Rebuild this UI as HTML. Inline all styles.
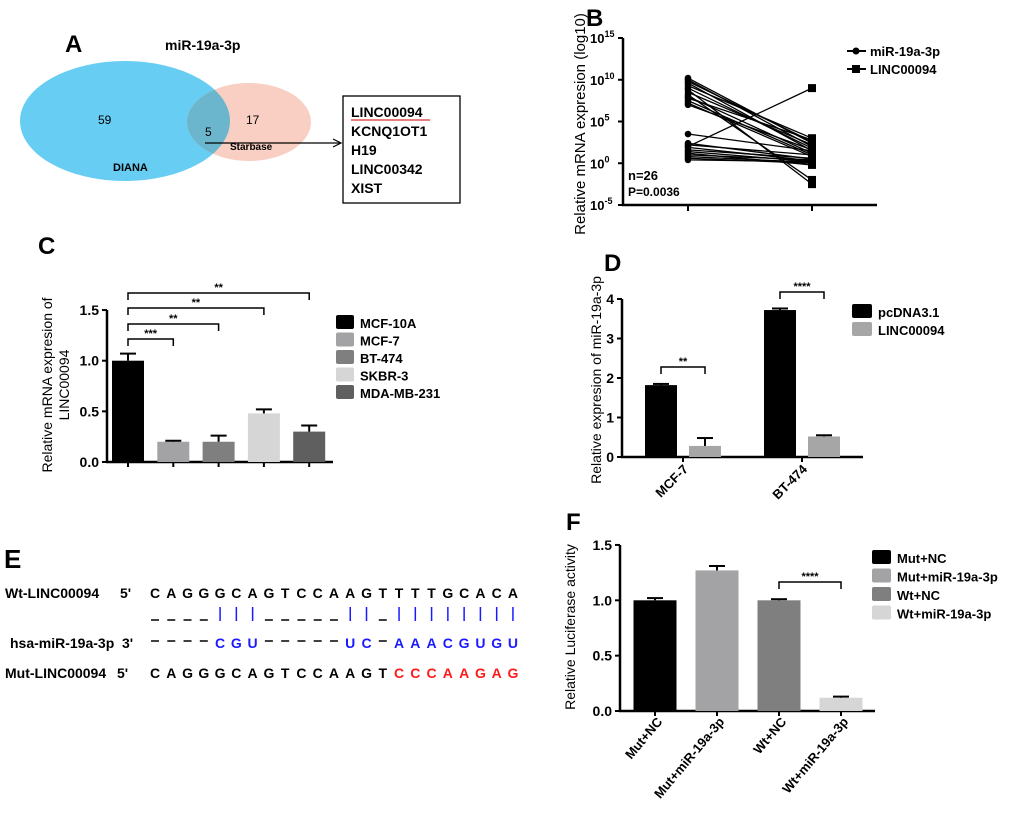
<!DOCTYPE html>
<html><head><meta charset="utf-8"><style>
html,body{margin:0;padding:0;background:#fff;}
svg{display:block;font-family:"Liberation Sans",Arial,sans-serif;}
.b{font-weight:bold}
</style></head><body>
<svg id="fig" width="1020" height="815" viewBox="0 0 1020 815" xmlns="http://www.w3.org/2000/svg">
<!-- Panel A -->
<g>
<text x="65" y="52" font-size="24" class="b">A</text>
<text x="165" y="50" font-size="14" class="b">miR-19a-3p</text>
<ellipse cx="125" cy="121" rx="105" ry="60" fill="#67cdf3"/>
<ellipse cx="249" cy="122" rx="62" ry="39" fill="#f8cfc2"/>
<clipPath id="cl"><ellipse cx="125" cy="121" rx="105" ry="60"/></clipPath>
<ellipse cx="249" cy="122" rx="62" ry="39" fill="#6bb6cc" clip-path="url(#cl)"/>
<text x="98" y="124" font-size="12">59</text>
<text x="205" y="136" font-size="12">5</text>
<text x="246" y="124" font-size="12">17</text>
<text x="113" y="171" font-size="11" class="b">DIANA</text>
<text x="230" y="150" font-size="10" class="b">Starbase</text>
<line x1="205" y1="143" x2="340" y2="143" stroke="#000" stroke-width="1.2"/>
<path d="M333,139 L341,143 L333,147" fill="none" stroke="#000" stroke-width="1.2"/>
<rect x="343" y="96" width="117" height="107" fill="none" stroke="#000" stroke-width="1.3"/>
<g font-size="14" class="b">
<text x="351" y="117">LINC00094</text>
<line x1="351" y1="120" x2="430" y2="120" stroke="#c00" stroke-width="1"/>
<text x="351" y="136">KCNQ1OT1</text>
<text x="351" y="155">H19</text>
<text x="351" y="174">LINC00342</text>
<text x="351" y="193">XIST</text>
</g>
</g>
<!-- Panel B -->
<g id="pb">
<text x="586" y="26" font-size="24" class="b">B</text>
<text transform="translate(585,124) rotate(-90)" text-anchor="middle" font-size="15">Relative mRNA expresion (log10)</text>
<line x1="623" y1="38" x2="623" y2="206" stroke="#000" stroke-width="2.5"/>
<line x1="622" y1="205" x2="877" y2="205" stroke="#000" stroke-width="2.5"/>
<text x="628" y="180" font-size="13" class="b">n=26</text>
<text x="628" y="196" font-size="12" class="b">P=0.0036</text>
<g font-size="13" class="b">
<line x1="847" y1="51" x2="866" y2="51" stroke="#000" stroke-width="2"/><circle cx="856" cy="51" r="3.5"/>
<text x="870" y="56">miR-19a-3p</text>
<line x1="847" y1="69" x2="866" y2="69" stroke="#000" stroke-width="2"/><rect x="852" y="65" width="8" height="8"/>
<text x="870" y="74">LINC00094</text>
</g>
</g>
<!-- Panel C -->
<g id="pc">
<text x="38" y="254" font-size="24" class="b">C</text>
<text transform="translate(52,385) rotate(-90)" text-anchor="middle" font-size="14">Relative mRNA expresion of</text>
<text transform="translate(69,385) rotate(-90)" text-anchor="middle" font-size="14">LINC00094</text>
</g>
<!-- Panel D -->
<g id="pd">
<text x="604" y="271" font-size="24" class="b">D</text>
<text transform="translate(601,380) rotate(-90)" text-anchor="middle" font-size="14">Relative expresion of miR-19a-3p</text>
</g>
<!-- Panel E -->
<g id="pe">
<text x="4" y="568" font-size="26" class="b">E</text>
<text x="5" y="598" font-size="14" class="b">Wt-LINC00094</text><text x="120" y="598" font-size="14" class="b">5'</text>
<text x="10" y="648" font-size="14" class="b">hsa-miR-19a-3p</text><text x="122" y="648" font-size="14" class="b">3'</text>
<text x="5" y="678" font-size="14" class="b">Mut-LINC00094</text><text x="117" y="678" font-size="14" class="b">5'</text>
</g>
<!-- Panel F -->
<g id="pf">
<text x="566" y="530" font-size="24" class="b">F</text>
<text transform="translate(575,627) rotate(-90)" text-anchor="middle" font-size="14">Relative Luciferase activity</text>
</g>
</svg>
<script>
const NS='http://www.w3.org/2000/svg';
function mk(p,t,a,txt){const e=document.createElementNS(NS,t);for(const k in a)e.setAttribute(k,a[k]);if(txt!==undefined)e.textContent=txt;p.appendChild(e);return e;}

// ---- Panel B data (log10 values) ----
const bTicks=[15,10,5,0,-5];
const bTickLabels=['15','10','5','0','-5'];
const bMir=[10.2,10,9.8,9.6,9.3,9,8.8,8.5,8.2,8,7.8,7.5,7.2,7,3.5,2,2.4,2.2,1.9,1.6,1.4,1.2,1,0.8,0.6,0.4];
const bLinc=[2.4,2,2.6,1.5,3,1.8,-2.5,2.2,-2,1.2,2.8,1,0.8,1.6,1.5,9,0.5,1,0.3,0.6,0.2,-0.2,0.4,0.1,0,0.2];
(function(){
 const g=document.getElementById('pb');
 const y=v=>205-(v+5)*(167/20);
 const x1=688,x2=812;
 bTicks.forEach((t,i)=>{
  mk(g,'line',{x1:618,y1:y(t),x2:623,y2:y(t),stroke:'#000','stroke-width':2});
  const tx=mk(g,'text',{x:590,y:y(t)+5,'font-size':13,'font-weight':'bold'},'10');
  
  
  mk(tx,'tspan',{dy:-6,'font-size':9},bTickLabels[i]);
 });
 [x1,x2].forEach(xx=>mk(g,'line',{x1:xx,y1:205,x2:xx,y2:211,stroke:'#000','stroke-width':2}));
 bMir.forEach((v,i)=>{
  const l=mk(g,'line',{x1:x1,y1:y(v),x2:x2,y2:y(bLinc[i]),stroke:'#000','stroke-width':1.3});
  
  
  const c=mk(g,'circle',{cx:x1,cy:y(v),r:3.3});
  
  
  const r=mk(g,'rect',{x:x2-4,y:y(bLinc[i])-4,width:8,height:8});
  
  
 });
})();

function barChart(gid,o){
 const g=document.getElementById(gid);
 const y=v=>o.y0-v*o.scale;
 mk(g,'line',{x1:o.ax,y1:y(o.ymax),x2:o.ax,y2:o.y0+1,stroke:'#000','stroke-width':2.5});
 mk(g,'line',{x1:o.ax-1,y1:o.y0,x2:o.xend,y2:o.y0,stroke:'#000','stroke-width':2.5});
 o.ticks.forEach((t,i)=>{
  mk(g,'line',{x1:o.ax-5,y1:y(t),x2:o.ax,y2:y(t),stroke:'#000','stroke-width':2});
  const tx=mk(g,'text',{x:o.ax-8,y:y(t)+5,'font-size':14,'font-weight':'bold','text-anchor':'end'},o.tickLabels[i]);
  
  
 });
 o.bars.forEach(b=>{
  const r=mk(g,'rect',{x:b.cx-o.w/2,y:y(b.v),width:o.w,height:b.v*o.scale,fill:b.col});
  
  
  const ey=y(b.v+b.e);
  mk(g,'line',{x1:b.cx,y1:y(b.v),x2:b.cx,y2:ey,stroke:'#000','stroke-width':2});
  mk(g,'line',{x1:b.cx-8,y1:ey,x2:b.cx+8,y2:ey,stroke:'#000','stroke-width':2});
 });
 o.ticksX.forEach(xx=>mk(g,'line',{x1:xx,y1:o.y0,x2:xx,y2:o.y0+5,stroke:'#000','stroke-width':2}));
 o.brackets.forEach(b=>{
  const p=mk(g,'path',{d:`M${b.a},${b.y+7}V${b.y}H${b.b}V${b.y+7}`,fill:'none',stroke:'#000','stroke-width':1.5});
  
  
  mk(g,'text',{x:(b.a+b.b)/2,y:b.y-2,'font-size':11,'font-weight':'bold','text-anchor':'middle'},b.s);
 });
 o.legend.forEach((l,i)=>{
  const ly=o.ly+i*o.ldy;
  const r=mk(g,'rect',{x:o.lx,y:ly-7,width:o.lw,height:14,rx:2,fill:l.col});
  
  
  const t=mk(g,'text',{x:o.lx+o.lw+6,y:ly+6,'font-size':o.lfs,'font-weight':'bold'},l.t);
  
  
 });
 return {g,y};
}

// ---- Panel C data ----
const cCats=['MCF-10A','MCF-7','BT-474','SKBR-3','MDA-MB-231'];
const cVals=[1.0,0.2,0.2,0.48,0.3];
const cErrs=[0.07,0.01,0.06,0.04,0.06];
const cTicks=[0,0.5,1,1.5];
const cTickLabels=['0.0','0.5','1.0','1.5'];
(function(){
 const cols=['#000','#a3a3a5','#7f7f7f','#d6d6d6','#5f5f5f'];
 const xs=cCats.map((c,i)=>128+i*45.3);
 barChart('pc',{y0:462,scale:101.3,ax:107,xend:333,ymax:1.5,w:32,ticks:cTicks,tickLabels:cTickLabels,
  bars:cVals.map((v,i)=>({cx:xs[i],v:v,e:cErrs[i],col:cols[i]})),ticksX:xs,
  brackets:[{a:xs[0],b:xs[1],y:339,s:'***'},{a:xs[0],b:xs[2],y:324,s:'**'},{a:xs[0],b:xs[3],y:308,s:'**'},{a:xs[0],b:xs[4],y:293,s:'**'}],
  legend:cCats.map((t,i)=>({t:t,col:cols[i]})),lx:336,ly:322,ldy:17.5,lw:18,lfs:13});
})();

// ---- Panel D data ----
const dGroups=['MCF-7','BT-474'];
const dPc=[1.82,3.72];
const dPcErr=[0.03,0.04];
const dLinc=[0.28,0.52];
const dLincErr=[0.2,0.03];
const dTicks=[0,1,2,3,4];
const dTickLabels=['0','1','2','3','4'];
(function(){
 const gx=dGroups.map((c,i)=>683+i*119);
 const bars=[];
 gx.forEach((x,i)=>{bars.push({cx:x-22,v:dPc[i],e:dPcErr[i],col:'#000'});bars.push({cx:x+22,v:dLinc[i],e:dLincErr[i],col:'#a6a6a6'});});
 const r=barChart('pd',{y0:457,scale:39.5,ax:622,xend:863,ymax:4,w:32,ticks:dTicks,tickLabels:dTickLabels,bars:bars,ticksX:gx,
  brackets:[{a:gx[0]-22,b:gx[0]+22,y:367,s:'**'},{a:gx[1]-22,b:gx[1]+22,y:292,s:'****'}],
  legend:[{t:'pcDNA3.1',col:'#000'},{t:'LINC00094',col:'#a6a6a6'}],lx:852,ly:311,ldy:18,lw:20,lfs:13});
 dGroups.forEach((c,i)=>{
  const t=mk(r.g,'text',{transform:`translate(${gx[i]+6},${470}) rotate(-45)`,'text-anchor':'end','font-size':13,'font-weight':'bold'},c);
  
  
 });
})();

// ---- Panel F data ----
const fCats=['Mut+NC','Mut+miR-19a-3p','Wt+NC','Wt+miR-19a-3p'];
const fVals=[1.0,1.27,1.0,0.12];
const fErrs=[0.02,0.04,0.01,0.01];
const fTicks=[0,0.5,1,1.5];
const fTickLabels=['0.0','0.5','1.0','1.5'];
(function(){
 const cols=['#000','#a3a3a5','#7f7f7f','#d6d6d6'];
 const xs=fCats.map((c,i)=>655+i*62);
 const r=barChart('pf',{y0:711,scale:110.7,ax:620,xend:875,ymax:1.5,w:43,ticks:fTicks,tickLabels:fTickLabels,
  bars:fVals.map((v,i)=>({cx:xs[i],v:v,e:fErrs[i],col:cols[i]})),ticksX:xs,
  brackets:[{a:xs[2],b:xs[3],y:582,s:'****'}],
  legend:fCats.map((t,i)=>({t:t,col:cols[i]})),lx:872,ly:557,ldy:18.5,lw:19,lfs:13});
 fCats.forEach((c,i)=>{
  const t=mk(r.g,'text',{transform:`translate(${xs[i]+8},${722}) rotate(-50)`,'text-anchor':'end','font-size':13,'font-weight':'bold'},c);
  
  
 });
})();

// ---- Panel E alignment ----
const eWt='CAGGGCAGTCCAAGTTTTGCACA';
const eMir='----CGU-----UC-AAACGUGU';
const eMut='CAGGGCAGTCCAAGTCCCAAGAG';
(function(){
 const g=document.getElementById('pe');
 const sp=16.27,x0=155;
 for(let i=0;i<eWt.length;i++){
  const x=x0+i*sp;
  mk(g,'text',{x:x,y:598,'font-size':14,'font-weight':'bold','text-anchor':'middle'},eWt[i]);
  const m=eMir[i];
  if(m==='-'){mk(g,'line',{x1:x-4,y1:641,x2:x+4,y2:641,stroke:'#000','stroke-width':1.5});}
  else mk(g,'text',{x:x,y:648,'font-size':14,'font-weight':'bold','text-anchor':'middle',fill:'#1a1aff'},m);
  if(m!=='-')mk(g,'line',{x1:x,y1:607,x2:x,y2:621,stroke:'#1a1aff','stroke-width':1.5});
  else mk(g,'line',{x1:x-4,y1:620,x2:x+4,y2:620,stroke:'#000','stroke-width':1.5});
  mk(g,'text',{x:x,y:678,'font-size':14,'font-weight':'bold','text-anchor':'middle',fill:i>=15?'#ff1a1a':'#000'},eMut[i]);
 }
})();
</script>
</body></html>
